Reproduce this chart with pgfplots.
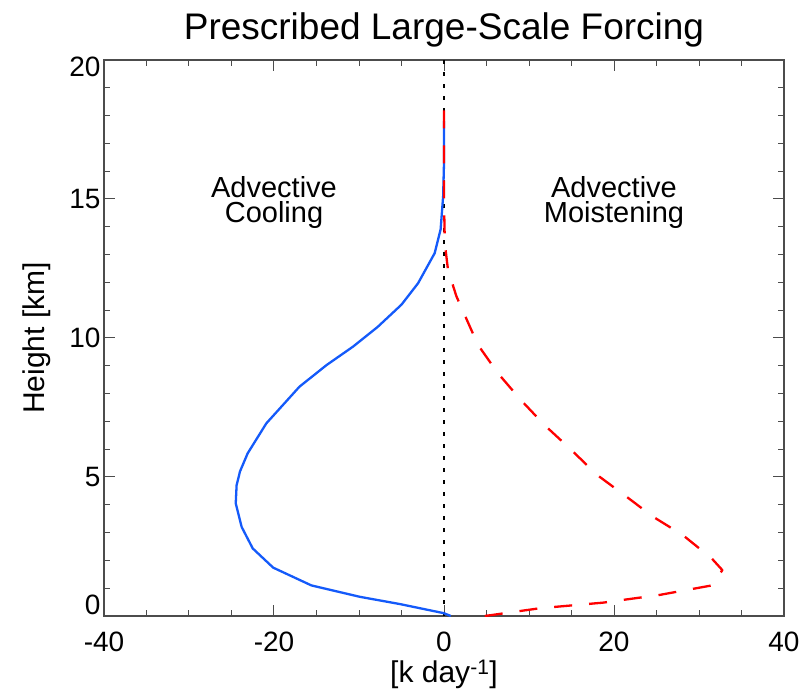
\documentclass[border=0pt]{standalone}
\usepackage{fontspec}
\setmainfont{Liberation Sans}
\usepackage{pgfplots}
\pgfplotsset{compat=1.18}
\definecolor{cblue}{RGB}{20,90,250}
\definecolor{cred}{RGB}{255,0,0}
\begin{document}
\begin{tikzpicture}
\path[use as bounding box] (-104bp,-77bp) rectangle (698bp,616bp);
\begin{axis}[
  scale only axis, width=680bp, height=556bp,
  xmin=-40, xmax=40, ymin=0, ymax=20,
  xtick={-40,-20,0,20,40},
  ytick={0,5,10,15,20},
  yticklabels={,5,10,15,},
  extra y ticks={0.4,19.75},
  extra y tick labels={0,20},
  extra y tick style={major tick length=0pt},
  minor x tick num=3, minor y tick num=4,
  tick align=inside,
  major tick length=11bp, minor tick length=6bp,
  /pgf/number format/assume math mode=true,
  ticklabel style={font=\fontsize{28bp}{30bp}\selectfont},
  xticklabel style={anchor=base, yshift=-35bp},
  axis line style={line width=1.3bp, black!70},
  tick style={line width=1bp, black!70},
  title={Prescribed Large-Scale Forcing},
  title style={font=\fontsize{37bp}{40bp}\selectfont, at={(axis description cs:0.5,1.027)}, anchor=base},
  xlabel={[k day\textsuperscript{-1}]},
  xlabel style={font=\fontsize{30bp}{32bp}\selectfont, at={(axis description cs:0.5,-0.1205)}, anchor=base},
  ylabel={Height [km]},
  ylabel style={font=\fontsize{30bp}{32bp}\selectfont, at={(axis description cs:-0.0868,0.5)}, anchor=base, rotate=0},
]
\addplot[black, line width=2.5bp, dash pattern=on 4bp off 8bp] coordinates {(0,0) (0,20)};
\addplot[cblue, line width=2.3bp, line join=round] coordinates {
(0.8,0.0) (0,0.1) (-5.2,0.43) (-9.9,0.69) (-15.6,1.1) (-20.1,1.74) (-22.5,2.43)
(-23.8,3.2) (-24.5,4.05) (-24.4,4.7) (-24.0,5.2) (-23.1,5.85) (-20.9,6.93)
(-17.0,8.25) (-13.8,9.03) (-10.7,9.69) (-7.8,10.4) (-5.0,11.2) (-3.05,11.97)
(-1.1,13.05) (-0.4,13.9) (-0.1,15.1) (0,16.3) (0,17.8)};
\addplot[cred, line width=2.3bp, line join=round, dash pattern=on 18bp off 17bp] coordinates {
(4.8,0.0) (11.3,0.28) (18.7,0.48) (25.4,0.76) (31.5,1.1) (32.75,1.65) (31.5,2.07)
(28.1,2.91) (24.6,3.57) (21.3,4.33) (17.9,5.1) (15.0,5.97) (11.85,6.86) (9.1,7.75)
(6.35,8.73) (4.0,9.75) (1.46,11.5) (0.47,12.45) (0.1,13.4) (0,14.9) (0,18.44)};
\node[align=center, inner sep=0pt, font=\fontsize{29bp}{25bp}\selectfont] at (axis cs:-20,14.89) {Advective\\Cooling};
\node[align=center, inner sep=0pt, font=\fontsize{29bp}{25bp}\selectfont] at (axis cs:20,14.89) {Advective\\Moistening};
\end{axis}
\end{tikzpicture}
\end{document}
